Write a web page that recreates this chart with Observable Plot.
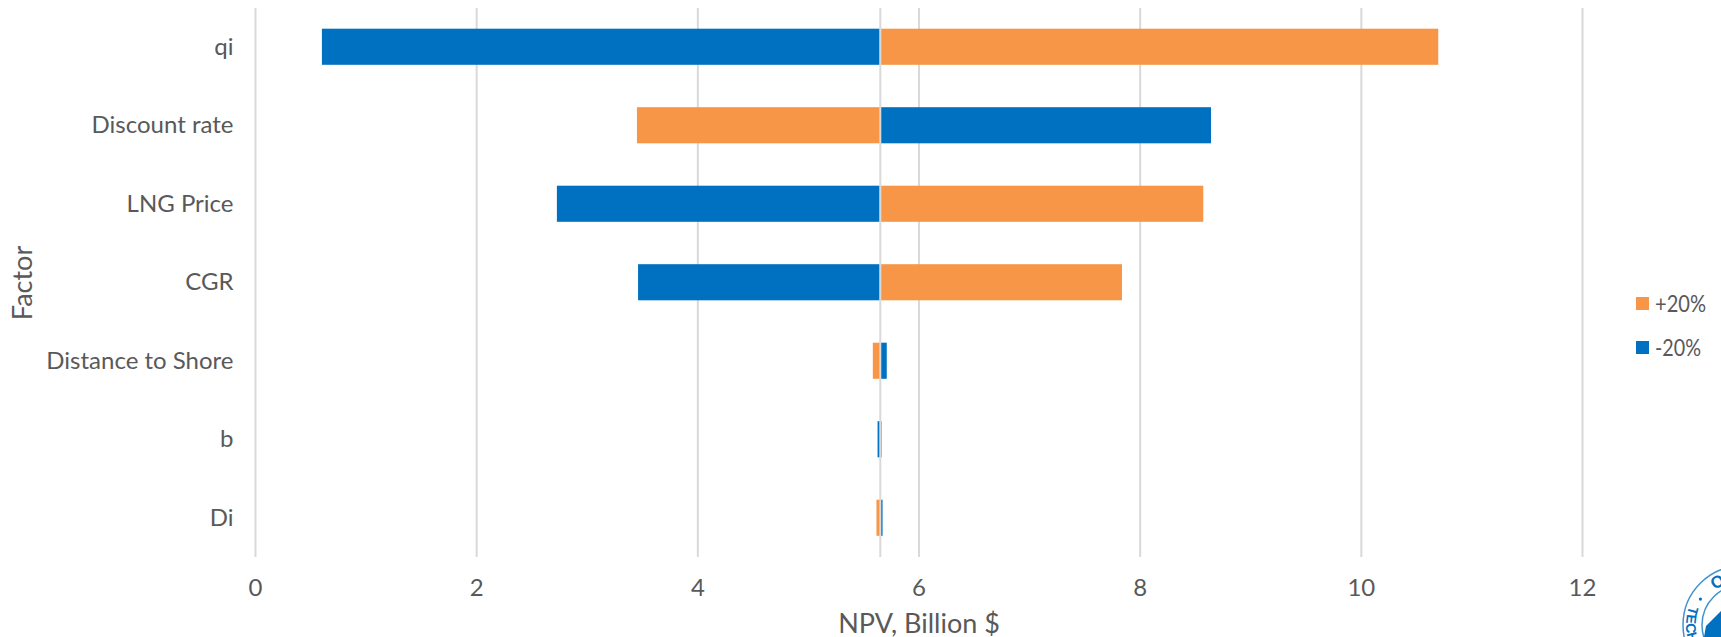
<!DOCTYPE html>
<html>
<head>
<meta charset="utf-8">
<script src="https://cdn.jsdelivr.net/npm/d3@7"></script>
<script src="https://cdn.jsdelivr.net/npm/@observablehq/plot@0.6"></script>
<style>
  html, body { margin: 0; padding: 0; background: #fff; overflow: hidden; }
  #chart { position: relative; width: 1721px; height: 637px; }
  #chart svg { display: block; }
</style>
</head>
<body>
<div id="chart"></div>
<script>
// Tornado chart: NPV response to a +/-20% change in each factor
const factors = ["qi", "Discount rate", "LNG Price", "CGR", "Distance to Shore", "b", "Di"];
const basePoint = 5.65;
const plus20 = [10.70, 3.454, 8.575, 7.84, 5.587, 5.67, 5.62];
const minus20 = [0.605, 8.645, 2.73, 3.464, 5.713, 5.63, 5.675];
const xTicks = [0, 2, 4, 6, 8, 10, 12];
const legendItems = ["+20%", "-20%"];
const colors = ["#F79646", "#0070C0"];

const fontFamily = "Lato, 'Open Sans', sans-serif";
const textColor = "#595959";

const bars = [
  ...factors.map((factor, i) => ({factor, value: plus20[i], series: "+20%"})),
  ...factors.map((factor, i) => ({factor, value: minus20[i], series: "-20%"}))
];

const plot = Plot.plot({
  width: 1721,
  height: 637,
  marginLeft: 255,
  marginRight: 139,
  marginTop: 8,
  marginBottom: 80,
  style: {fontFamily, fontSize: "24px", color: textColor, background: "#fff"},
  x: {domain: [0, 12], range: [255, 1582]},
  y: {domain: factors, range: [7.5, 557], padding: 0.54, paddingOuter: 0.27, round: false},
  color: {domain: legendItems, range: colors},
  marks: [
    Plot.ruleX(xTicks, {stroke: "#D9D9D9", strokeWidth: 2}),
    Plot.barX(bars, {x1: basePoint, x2: "value", y: "factor", fill: "series"}),
    Plot.ruleX([basePoint], {stroke: "#D9D9D9", strokeWidth: 2}),
    Plot.axisX({ticks: xTicks, tickSize: 0, tickPadding: 21, fontSize: 24, label: null, color: textColor}),
    Plot.axisY({tickSize: 0, tickPadding: 22, fontSize: 24, label: null, color: textColor}),
    Plot.text(["NPV, Billion $"], {frameAnchor: "bottom", lineAnchor: "middle", x: 6, dy: 67, text: d => d, fontSize: 27, fill: textColor}),
    Plot.text(["Factor"], {frameAnchor: "left", textAnchor: "middle", dx: -232, rotate: -90, text: d => d, fontSize: 27, fill: textColor})
  ]
});
document.getElementById("chart").append(plot);

const svg = d3.select(plot);

// Legend to the right of the plot area
legendItems.forEach((label, i) => {
  const y = 303.5 + i * 44;
  svg.append("rect").attr("x", 1636).attr("y", y - 6.5).attr("width", 13).attr("height", 13).attr("fill", colors[i]);
  svg.append("text").attr("x", 1655).attr("y", y).attr("dy", "0.35em")
    .attr("text-anchor", "start").attr("font-size", 24).attr("font-family", fontFamily)
    .attr("textLength", i === 0 ? 51 : 46).attr("lengthAdjust", "spacingAndGlyphs")
    .attr("fill", textColor).text(label);
});

// Institution seal, cut off by the corner of the page
const sealBlue = "#0070C0";
const cx = 1742, cy = 625;
const polar = (r, deg) => [cx + r * Math.cos(deg * Math.PI / 180), cy + r * Math.sin(deg * Math.PI / 180)];
const arcPath = (r, from, to, sweep) => {
  const [x0, y0] = polar(r, from), [x1, y1] = polar(r, to);
  return `M${x0},${y0}A${r},${r} 0 0 ${sweep} ${x1},${y1}`;
};
const seal = svg.append("g");
seal.append("circle").attr("cx", cx).attr("cy", cy).attr("r", 59)
  .attr("fill", "none").attr("stroke", "#3F94CF").attr("stroke-width", 1.5);
seal.append("circle").attr("cx", cx).attr("cy", cy).attr("r", 40)
  .attr("fill", "none").attr("stroke", "#3F94CF").attr("stroke-width", 1.5);
seal.append("path").attr("d", "M1704,637L1706,626L1721,611V637Z").attr("fill", sealBlue);
seal.append("circle").attr("cx", polar(49, 212)[0]).attr("cy", polar(49, 212)[1]).attr("r", 1.6).attr("fill", sealBlue);

const defs = seal.append("defs");
defs.append("path").attr("id", "seal-top").attr("d", arcPath(44, 232, 300, 1));
defs.append("path").attr("id", "seal-left").attr("d", arcPath(56, 200, 150, 0));
seal.append("text").attr("font-family", "'Liberation Sans', sans-serif").attr("font-weight", 700)
  .attr("font-size", 17).attr("fill", sealBlue).attr("text-anchor", "start")
  .append("textPath").attr("href", "#seal-top").text("OF");
seal.append("text").attr("font-family", "'Liberation Sans', sans-serif").attr("font-weight", 700)
  .attr("font-size", 14).attr("fill", sealBlue).attr("text-anchor", "start")
  .append("textPath").attr("href", "#seal-left").text("TECH");
</script>
</body>
</html>
